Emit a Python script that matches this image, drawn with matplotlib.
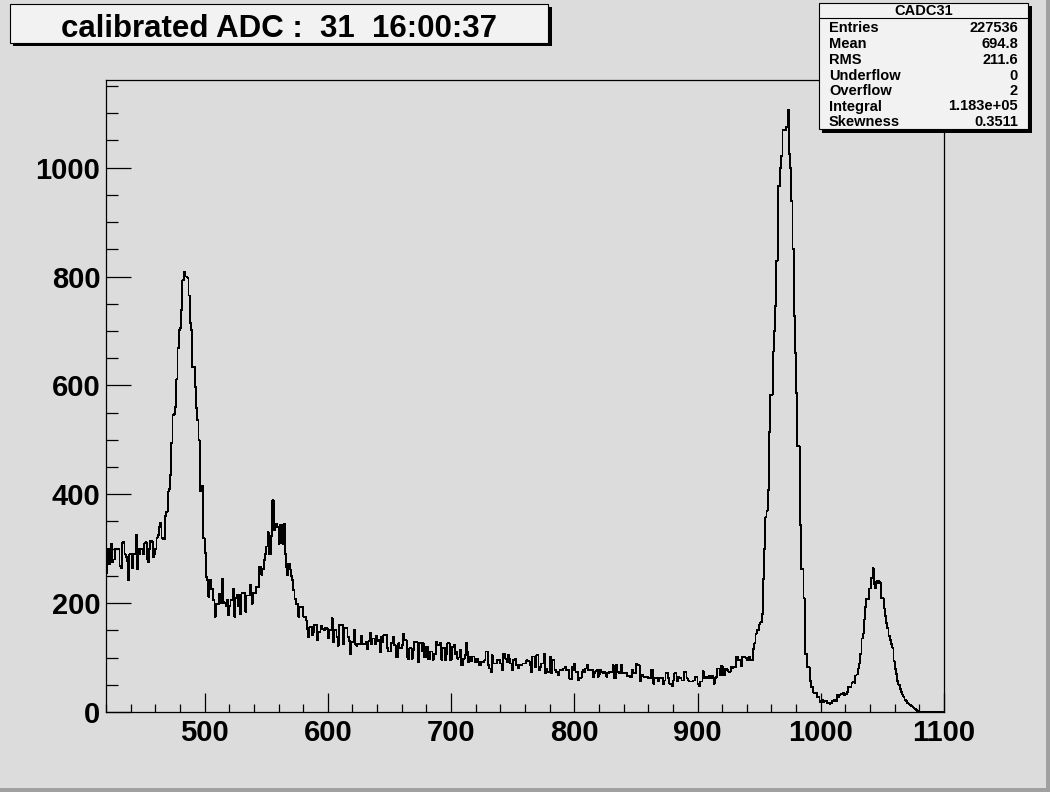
import numpy as np
import matplotlib.pyplot as plt
from matplotlib.patches import Rectangle
from matplotlib.ticker import MultipleLocator

W, H = 1050, 792
plt.rcParams['font.family'] = ['Liberation Sans', 'DejaVu Sans']
plt.rcParams['font.weight'] = 'bold'

# bin contents, 1 ADC unit per bin
counts_420 = [255, 300, 272, 300, 309, 275, 280, 300, 300, 300,
              300, 268, 265, 310, 312, 290, 285, 278, 242, 290,
              290, 265, 290, 290, 325, 262, 300, 290, 300, 300,
              290, 310, 312, 280, 275, 300, 315, 312, 285, 290,
              300, 320, 325, 340, 347, 320, 318, 318, 360, 368,
              405, 410, 435, 494, 545, 548, 560, 611, 668, 701,
              705, 739, 793, 808, 800, 800, 798, 765, 714, 701,
              634, 634, 597, 558, 536, 499, 405, 405, 416, 319]
counts_500 = [292, 248, 242, 212, 243, 226, 226, 205, 175, 199,
              199, 199, 217, 200, 245, 202, 200, 195, 205, 178,
              195, 205, 205, 226, 175, 210, 215, 195, 215, 180,
              218, 218, 218, 184, 214, 214, 214, 234, 199, 218,
              218, 218, 230, 230, 266, 266, 252, 262, 279, 290,
              304, 330, 291, 291, 324, 389, 334, 346, 346, 340,
              309, 343, 343, 309, 346, 291, 266, 252, 272, 262,
              250, 242, 224, 208, 199, 199, 175, 193, 193, 193,
              175, 175, 168, 153, 138, 156, 156, 141, 147, 160,
              160, 132, 147, 147, 159, 153, 153, 150, 155, 153]
counts_600 = [135, 150, 150, 172, 129, 150, 150, 138, 122, 160,
              160, 160, 125, 155, 155, 155, 138, 130, 107, 129,
              129, 150, 125, 122, 125, 125, 125, 140, 125, 125,
              125, 128, 115, 130, 145, 125, 135, 135, 125, 140,
              130, 132, 110, 138, 129, 141, 141, 141, 117, 111,
              111, 126, 126, 138, 123, 101, 101, 126, 117, 117,
              123, 144, 132, 132, 101, 98, 117, 117, 98, 114,
              129, 129, 128, 92, 126, 126, 111, 126, 101, 101,
              120, 98, 98, 111, 111, 96, 107, 107, 129, 123,
              123, 126, 96, 117, 117, 96, 107, 126, 126, 96]
counts_700 = [98, 120, 123, 107, 111, 98, 100, 114, 86, 86,
              98, 104, 126, 110, 92, 102, 94, 102, 102, 92,
              98, 98, 92, 86, 92, 92, 92, 95, 111, 111,
              86, 80, 73, 104, 89, 89, 89, 96, 95, 95,
              89, 77, 107, 107, 98, 92, 104, 98, 89, 77,
              95, 95, 98, 86, 80, 86, 86, 86, 89, 89,
              89, 95, 93, 93, 86, 73, 102, 102, 83, 104,
              104, 77, 83, 89, 89, 107, 71, 80, 73, 73,
              101, 71, 95, 95, 77, 73, 73, 67, 77, 77,
              77, 80, 83, 77, 77, 77, 61, 61, 83, 77]
counts_800 = [89, 73, 73, 58, 63, 63, 73, 77, 74, 80,
              86, 77, 77, 77, 77, 65, 71, 75, 77, 65,
              70, 77, 74, 71, 74, 72, 65, 71, 73, 74,
              74, 86, 62, 62, 86, 74, 71, 71, 86, 71,
              71, 71, 71, 66, 66, 65, 65, 77, 71, 71,
              88, 86, 86, 56, 68, 68, 65, 65, 65, 65,
              62, 62, 77, 77, 52, 62, 62, 62, 56, 63,
              62, 62, 52, 58, 72, 72, 62, 52, 52, 47,
              58, 71, 71, 56, 65, 63, 63, 58, 58, 74,
              74, 62, 58, 56, 56, 56, 58, 58, 65, 65]
counts_900 = [52, 48, 56, 56, 75, 62, 62, 65, 62, 67,
              62, 62, 67, 52, 62, 65, 80, 80, 67, 84,
              82, 67, 80, 80, 77, 74, 74, 82, 80, 82,
              82, 101, 101, 95, 95, 84, 101, 101, 101, 99,
              95, 95, 102, 95, 95, 115, 126, 144, 150, 151,
              161, 165, 180, 245, 300, 358, 370, 408, 514, 583,
              583, 662, 700, 746, 829, 967, 967, 1000, 1022, 1069,
              1069, 1069, 1075, 1106, 1025, 1000, 938, 851, 728, 660,
              586, 488, 488, 343, 263, 263, 209, 107, 107, 82,
              82, 57, 46, 46, 35, 35, 35, 28, 28, 18]
counts_1000 = [20, 22, 18, 20, 20, 17, 17, 15, 17, 20,
               20, 22, 20, 31, 28, 31, 33, 33, 35, 31,
               33, 37, 46, 47, 46, 54, 55, 54, 67, 69,
               80, 89, 107, 135, 144, 170, 193, 208, 208, 227,
               227, 246, 264, 235, 227, 240, 237, 240, 237, 209,
               209, 190, 176, 163, 154, 140, 133, 125, 118, 93,
               79, 70, 57, 50, 43, 36, 32, 28, 22, 20,
               17, 15, 13, 11, 10, 8, 6, 4, 2, 0,
               0, 0, 0, 0, 0, 0, 0, 0, 0, 0,
               0, 0, 0, 0, 0, 0, 0, 0, 0, 0]

title = 'calibrated ADC :  31  16:00:37'
hist_name = 'CADC31'
stat_names = ['Entries', 'Mean', 'RMS', 'Underflow', 'Overflow', 'Integral', 'Skewness']
stat_values = ['227536', '694.8', '211.6', '0', '2', '1.183e+05', '0.3511']

counts = np.array(counts_420 + counts_500 + counts_600 + counts_700
                  + counts_800 + counts_900 + counts_1000, dtype=float)
edges = np.arange(420, 420 + len(counts) + 1)

bg = '#dcdcdc'
fig = plt.figure(figsize=(W / 100, H / 100), dpi=100)
fig.patch.set_facecolor(bg)


def fx(x):
    return x / W


def fy(y):
    return 1 - y / H


def box(x0, y0, x1, y1, **kw):
    fig.patches.append(Rectangle((fx(x0), fy(y1)), fx(x1) - fx(x0), fy(y0) - fy(y1),
                                 transform=fig.transFigure, **kw))


ax = fig.add_axes([fx(106), fy(712), fx(944) - fx(106), fy(80) - fy(712)])
ax.set_facecolor(bg)
ax.stairs(counts, edges, color='black', lw=0.6, antialiased=False)
ax.set_xlim(420, 1100)
ax.set_ylim(0, 1161)

ax.set_xticks(range(500, 1101, 100))
ax.xaxis.set_minor_locator(MultipleLocator(20))
ax.set_yticks(range(0, 1001, 200))
ax.yaxis.set_minor_locator(MultipleLocator(50))
ax.tick_params(axis='x', which='major', direction='in', length=13.5, width=0.9,
               labelsize=21, pad=5, top=False)
ax.tick_params(axis='x', which='minor', direction='in', length=6, width=0.9, top=False)
ax.tick_params(axis='y', which='major', direction='in', length=18, width=0.9,
               labelsize=21, pad=4, right=False)
ax.tick_params(axis='y', which='minor', direction='in', length=8.5, width=0.9, right=False)
for lab in ax.get_xticklabels() + ax.get_yticklabels():
    lab.set_fontweight('bold')
for s in ax.spines.values():
    s.set_linewidth(0.9)

# title pave
box(13, 7, 552, 46, facecolor='black', edgecolor='none')
box(10, 4, 548, 43, facecolor='#f2f2f2', edgecolor='black', lw=0.8)
fig.text(fx(279), fy(37), title, ha='center', va='baseline', fontsize=22.5, fontweight='bold')

# stats pave
box(822, 6, 1032, 133, facecolor='black', edgecolor='none')
box(819, 3, 1028, 129, facecolor='#f2f2f2', edgecolor='black', lw=0.8)
fig.lines.append(plt.Line2D([fx(819), fx(1028)], [fy(18), fy(18)],
                            transform=fig.transFigure, color='black', lw=0.8))
fig.text(fx(924), fy(11), hist_name, ha='center', va='center', fontsize=10.5, fontweight='bold')
row_y = [28, 44, 60, 75.5, 91, 106.5, 122.5]
for name, val, yy in zip(stat_names, stat_values, row_y):
    fig.text(fx(829), fy(yy), name, ha='left', va='center', fontsize=10.5, fontweight='bold')
    fig.text(fx(1018), fy(yy), val, ha='right', va='center', fontsize=10.5, fontweight='bold')

# canvas bevel
box(0, 788, 1050, 792, facecolor='#a0a0a0', edgecolor='none')
box(1046, 0, 1050, 792, facecolor='#a0a0a0', edgecolor='none')

fig.savefig('out.png', dpi=100, facecolor=bg)
